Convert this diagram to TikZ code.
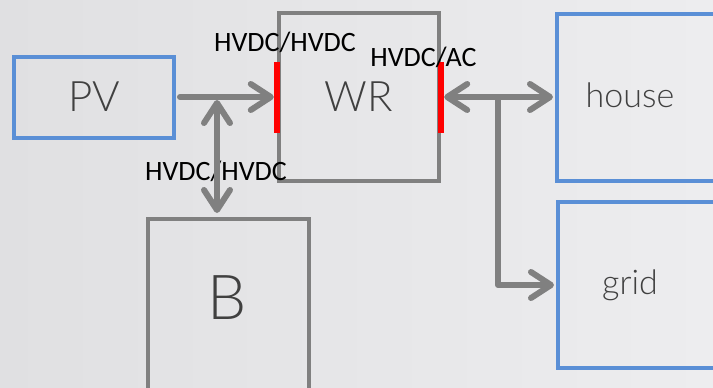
\documentclass[tikz,border=0pt]{standalone}
\usepackage{fontspec}
\setmainfont{Lato}[UprightFont=* Light]
\newfontfamily\lblfont{Carlito}
\usetikzlibrary{arrows.meta, positioning}
\definecolor{boxblue}{HTML}{5A8FD6}
\definecolor{linegray}{HTML}{808080}
\definecolor{txtgray}{HTML}{404040}
\definecolor{bgleft}{HTML}{E0E0E2}
\definecolor{bgright}{HTML}{EDEDEF}
\tikzset{
  chev/.tip={Straight Barb[round, length=20bp, width=26bp]},
  blk/.style={rectangle, draw=linegray, line width=4bp, inner sep=0pt,
              text=txtgray},
  src/.style={blk, draw=boxblue},
  port/.style={rectangle, fill=red, minimum width=6bp, minimum height=71bp,
               inner sep=0pt},
  lbl/.style={font=\lblfont\fontsize{28bp}{28bp}\selectfont, inner sep=0pt,
              anchor=base},
  big/.style={font=\fontsize{42bp}{42bp}\selectfont, text=txtgray},
  huge/.style={font=\fontsize{62bp}{62bp}\selectfont, text=txtgray},
  mid/.style={font=\fontsize{34bp}{34bp}\selectfont, text=txtgray},
  arr/.style={-chev, line width=6bp, draw=linegray, line cap=round,
              line join=round},
  biarr/.style={arr, chev-chev},
}

\begin{document}
\begin{tikzpicture}[x=1bp, y=-1bp]
  \fill[left color=bgleft, right color=bgright] (0,0) rectangle (713,387);
  \useasboundingbox (0,0) rectangle (713,387);
  \clip (0,0) rectangle (713,387);

  % blocks
  \node[src, big, minimum width=160bp, minimum height=81bp] (pv) at (94,97) {PV};
  \node[blk, big, minimum width=160bp, minimum height=168bp] (wr) at (359,97) {WR};
  \node[blk, minimum width=161bp, minimum height=180bp] (bat) at (228.5,309) {};
  \node[huge] (batT) at (227,298) {B};
  \node[src, minimum width=203bp, minimum height=167bp] (house) at (658.5,97) {};
  \node[mid] (houseT) at (630,95) {house};
  \node[src, minimum width=203bp, minimum height=166bp] (grid) at (659.5,285) {};
  \node[mid] (gridT) at (630,285) {grid};

  % converter ports
  \node[port] (portIn) at (wr.west) {};
  \node[port] (portOut) at (wr.east) {};
  \node[lbl] (lblIn) at (285,51) {HVDC/HVDC};
  \node[lbl] (lblBat) at (216,180) {HVDC/HVDC};
  \node[lbl] (lblOut) at (423.5,66) {HVDC/AC};

  % connections
  \coordinate (jn) at (217,100);
  \coordinate (br) at (498,97);
  \draw[arr, shorten <=4bp] (pv.east) -- (portIn.west);
  \draw[biarr, shorten >=4bp] (jn) -- (jn |- bat.north);
  \draw[biarr, shorten >=2bp] (portOut.east) -- (house.west);
  \draw[arr, shorten >=2bp] (br) |- (grid.west);
\end{tikzpicture}
\end{document}
